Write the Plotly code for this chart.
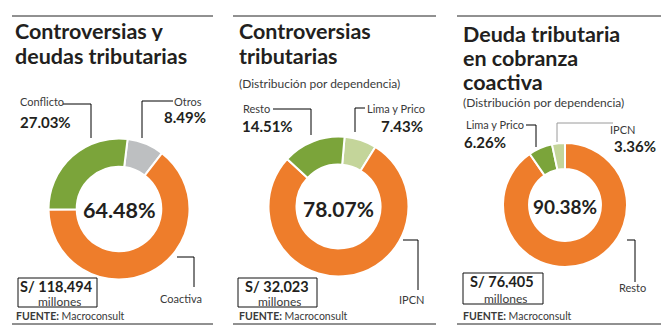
import plotly.graph_objects as go

W, H = 672, 335

# ---------------- data ----------------
p1_labels = ["Otros", "Coactiva", "Conflicto"]
p1_values = [8.49, 64.48, 27.03]
p1_total = "S/ 118,494"

p2_labels = ["Lima y Prico", "IPCN", "Resto"]
p2_values = [7.43, 78.07, 14.51]
p2_total = "S/ 32,023"

p3_labels = ["Resto", "Lima y Prico", "IPCN"]
p3_values = [90.38, 6.26, 3.36]
p3_total = "S/ 76,405"

titles = [["Controversias y", "deudas tributarias"],
          ["Controversias", "tributarias"],
          ["Deuda tributaria", "en cobranza", "coactiva"]]
subtitle = "(Distribución por dependencia)"
source = "Macroconsult"

ORANGE = "#EE7D2B"
GREEN = "#7BA43A"
GRAY = "#BDBFC1"
LGREEN = "#C4D59A"
DARK = "#231F20"
LABEL = "#3a3a3a"
FONT = "Lato"


def px(x):
    return x / W


def py(y):
    return 1 - y / H


def pct(v):
    return f"{v:.2f}%"


fig = go.Figure()


def add_pie(labels, values, colors, cx, cy, r, rotation, hole):
    fig.add_trace(go.Pie(
        labels=labels, values=values, sort=False, direction="clockwise",
        rotation=rotation, hole=hole, textinfo="none", hoverinfo="label+percent",
        marker=dict(colors=colors, line=dict(color="white", width=2)),
        domain=dict(x=[px(cx - r), px(cx + r)], y=[py(cy + r), py(cy - r)]),
        showlegend=False,
    ))


add_pie(p1_labels, p1_values, [GRAY, ORANGE, GREEN], 119, 209, 70.5, 7, 0.6)
add_pie(p2_labels, p2_values, [LGREEN, ORANGE, GREEN], 338.5, 206.5, 70, 5, 0.6)
add_pie(p3_labels, p3_values, [ORANGE, GREEN, LGREEN], 565, 205, 62, 0, 0.58)

annotations = []
shapes = []


def text(x, y, s, size, color=LABEL, bold=False, anchor="left", h=None):
    a = dict(
        x=px(x), y=py(y), xref="paper", yref="paper", text=(f"<b>{s}</b>" if bold else s),
        showarrow=False, xanchor=anchor, yanchor="middle", borderpad=0,
        font=dict(family=FONT, size=size, color=color))
    if h is not None:
        a["height"] = h
        a["valign"] = "middle"
    annotations.append(a)


def line(x0, y0, x1, y1, color="#000", width=1):
    shapes.append(dict(type="line", xref="paper", yref="paper",
                       x0=px(x0), y0=py(y0), x1=px(x1), y1=py(y1),
                       line=dict(color=color, width=width)))


def rect(x0, y0, x1, y1):
    shapes.append(dict(type="rect", xref="paper", yref="paper",
                       x0=px(x0), y0=py(y0), x1=px(x1), y1=py(y1),
                       line=dict(color="#111", width=1)))


# panel frames
for (a, b) in [(12, 213), (233, 436), (457, 661)]:
    line(a, 16, b, 16, "#222", 1)
    line(a, 324, b, 324, "#222", 1)

# titles
TS = 21.5
for i, t in enumerate(titles[0]):
    text(14, 31 + 24.5 * i, t, TS, DARK, True, h=21)
for i, t in enumerate(titles[1]):
    text(238, 31 + 24.5 * i, t, TS, DARK, True, h=21)
for i, t in enumerate(titles[2]):
    text(462, 33 + 24.5 * i, t, TS, DARK, True, h=21)
text(238, 83, subtitle, 12, LABEL)
text(462, 102, subtitle, 12, LABEL)

# center values
text(119, 210, pct(p1_values[1]), 21.5, DARK, True, "center")
text(338.5, 208, pct(p2_values[1]), 21, DARK, True, "center")
text(565, 206, pct(p3_values[0]), 19, DARK, True, "center")

# panel 1 labels
text(19, 101, p1_labels[2], 11)
text(19, 122, pct(p1_values[2]), 15, DARK, True)
line(63, 104, 91, 104); line(91, 104, 91, 138)
text(203, 101, p1_labels[0], 11, anchor="right")
text(207, 117, pct(p1_values[0]), 15, DARK, True, "right")
line(142, 101, 173, 101); line(142, 101, 142, 138)
line(177, 257, 194, 257); line(194, 257, 194, 287)
text(203, 298, p1_labels[1], 11, anchor="right")

# panel 2 labels
text(242, 109, p2_labels[2], 11)
text(241, 126, pct(p2_values[2]), 15, DARK, True)
line(273, 109, 311, 109); line(311, 109, 311, 135)
text(366, 108, p2_labels[0], 11)
text(424, 126, pct(p2_values[0]), 15, DARK, True, "right")
line(355, 108, 365, 108); line(355, 108, 355, 132)
line(403, 240, 418, 240); line(418, 240, 418, 290)
text(425, 299, p2_labels[1], 11, anchor="right")

# panel 3 labels
text(465, 125, p3_labels[1], 11)
text(463, 142, pct(p3_values[1]), 15, DARK, True)
line(526, 125, 536, 125); line(536, 125, 536, 147)
text(636, 129, p3_labels[2], 11, anchor="right")
text(657, 146, pct(p3_values[2]), 15, DARK, True, "right")
line(557, 123, 613, 123, "#9a9a9a"); line(557, 123, 557, 142, "#9a9a9a")
line(627, 240, 635, 240); line(635, 240, 635, 282)
text(647, 287, p3_labels[0], 11, anchor="right")

# totals boxes
for (x0, y0, x1, y1, tot) in [(18, 278, 97, 307, p1_total),
                              (238, 278, 317, 307, p2_total),
                              (463, 273, 543, 304, p3_total)]:
    rect(x0, y0, x1, y1)
    text((x0 + x1) / 2 - 1, y0 + 7.5, tot, 14.5, DARK, True, "center", h=14)
    text((x0 + x1) / 2 + 2, y1 - 6.5, "millones", 12, LABEL, False, "center", h=12)

# source
for x in (15, 238, 462):
    text(x, 316, f"<b>FUENTE:</b> {source}", 10.5, LABEL)

fig.update_layout(
    width=W, height=H, margin=dict(l=0, r=0, t=0, b=0),
    paper_bgcolor="white", plot_bgcolor="white",
    annotations=annotations, shapes=shapes,
)
fig.write_html("out.html")
